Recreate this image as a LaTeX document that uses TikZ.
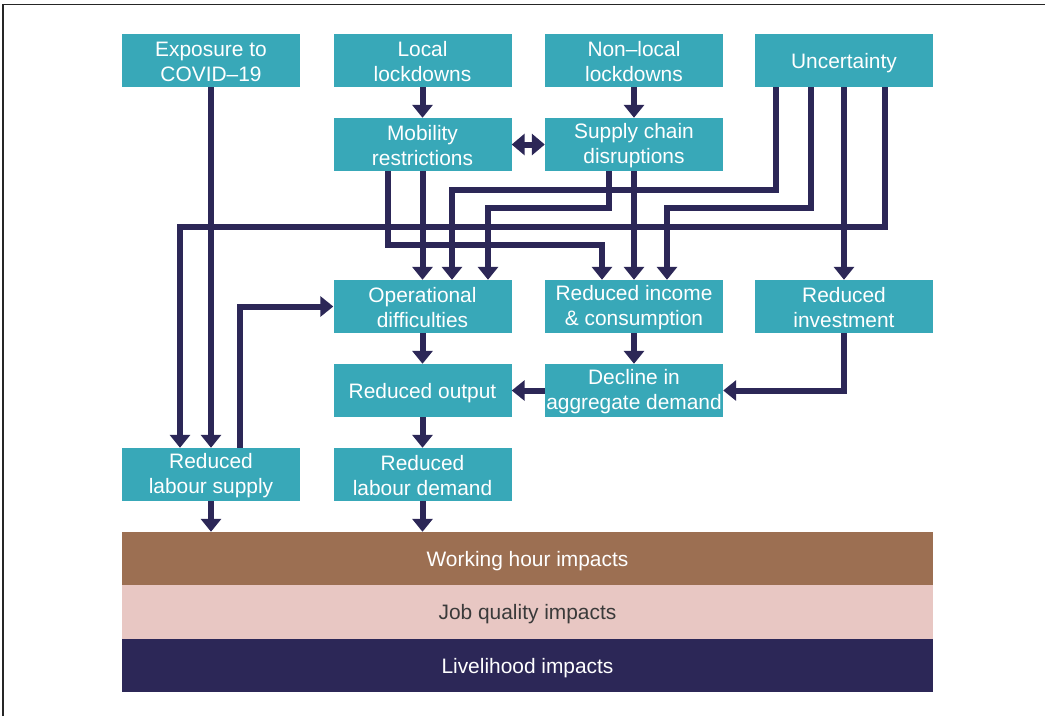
\documentclass[tikz,border=0pt]{standalone}
\usepackage{fontspec}
\setmainfont{Liberation Sans}
\usetikzlibrary{arrows.meta}
\definecolor{teal1}{HTML}{38A8B8}
\definecolor{navy1}{HTML}{2C2757}
\definecolor{brown1}{HTML}{9C6F52}
\definecolor{pink1}{HTML}{E8C7C3}
\definecolor{gray1}{HTML}{3A3A3A}
\begin{document}
\begin{tikzpicture}[x=1pt,y=-1pt,
  box/.style={fill=teal1,draw=none,inner sep=0pt,minimum width=178pt,minimum height=53pt},
  lbl/.style={text=white,inner sep=0pt,align=center,font=\fontsize{20.9}{25}\selectfont,yshift=-1.2pt},
  lblone/.style={lbl,yshift=-1.3pt},
  band/.style={draw=none,inner sep=0pt,minimum width=811pt},
  arr/.style={draw=navy1,line width=6pt,-{Triangle[width=20pt,length=13pt]}},
  dbl/.style={draw=navy1,line width=6pt,{Triangle[width=21pt,length=13pt]}-{Triangle[width=21pt,length=13pt]}}
]
\useasboundingbox (0,0) rectangle (1045,716);
\fill[white] (0,0) rectangle (1045,716);
\draw[line width=1.5pt,black!85] (3,716) -- (3,4.5) -- (1045,4.5);

\node[box,label={[lbl]center:{Exposure to\\COVID–19}}] (exp) at (211,60.5) {};
\node[box,label={[lbl]center:{Local\\lockdowns}}] (loc) at (422.5,60.5) {};
\node[box,label={[lbl]center:{Non–local\\lockdowns}}] (non) at (634,60.5) {};
\node[box,label={[lblone]center:{Uncertainty}}] (unc) at (844,60.5) {};
\node[box,label={[lbl]center:{Mobility\\restrictions}}] (mob) at (422.5,144.5) {};
\node[box,label={[lbl]center:{Supply chain\\disruptions}}] (sup) at (634,144.5) {};
\node[box,label={[lbl]center:{Operational\\difficulties}}] (ope) at (422.5,306.5) {};
\node[box,label={[lbl]center:{Reduced income\\\& consumption}}] (inc) at (634,306.5) {};
\node[box,label={[lbl]center:{Reduced\\investment}}] (inv) at (844,306.5) {};
\node[box,label={[lblone]center:{Reduced output}}] (out) at (422.5,390.5) {};
\node[box,label={[lbl]center:{Decline in\\aggregate demand}}] (dec) at (634,390.5) {};
\node[box,label={[lbl]center:{Reduced\\labour supply}}] (lsu) at (211,474.5) {};
\node[box,label={[lbl]center:{Reduced\\labour demand}}] (lde) at (422.5,474.5) {};

\node[band,fill=brown1,minimum height=53pt,label={[lblone]center:{Working hour impacts}}] (work) at (527.5,558.5) {};
\node[band,fill=pink1,minimum height=54pt,label={[lblone,text=gray1]center:{Job quality impacts}}] (job) at (527.5,612) {};
\node[band,fill=navy1,minimum height=53pt,label={[lblone]center:{Livelihood impacts}}] (live) at (527.5,665.5) {};

\draw[arr] (exp.south) -- (lsu.north);
\draw[arr] (loc.south) -- (mob.north);
\draw[arr] (non.south) -- (sup.north);
\draw[dbl] (mob.east) -- (sup.west);
\draw[arr] (mob.south) -- (ope.north);
\draw[arr] (mob.south -| 388,0) -- (388,245) -- (602,245) -- (inc.north -| 602,0);
\draw[arr] (sup.south) -- (inc.north);
\draw[arr] (sup.south -| 609,0) -- (609,208) -- (488,208) -- (ope.north -| 488,0);
\draw[arr] (unc.south -| 776,0) -- (776,190) -- (452,190) -- (ope.north -| 452,0);
\draw[arr] (unc.south -| 811,0) -- (811,208) -- (667,208) -- (inc.north -| 667,0);
\draw[arr] (unc.south) -- (inv.north);
\draw[arr] (unc.south -| 885,0) -- (885,227) -- (180,227) -- (lsu.north -| 180,0);
\draw[arr] (ope.south) -- (out.north);
\draw[arr] (inc.south) -- (dec.north);
\draw[arr] (dec.west) -- (out.east);
\draw[arr] (inv.south) |- (dec.east);
\draw[arr] (out.south) -- (lde.north);
\draw[arr] (lsu.north -| 240,0) |- (ope.west);
\draw[arr] (lsu.south) -- (lsu.south |- work.north);
\draw[arr] (lde.south) -- (lde.south |- work.north);
\end{tikzpicture}
\end{document}
